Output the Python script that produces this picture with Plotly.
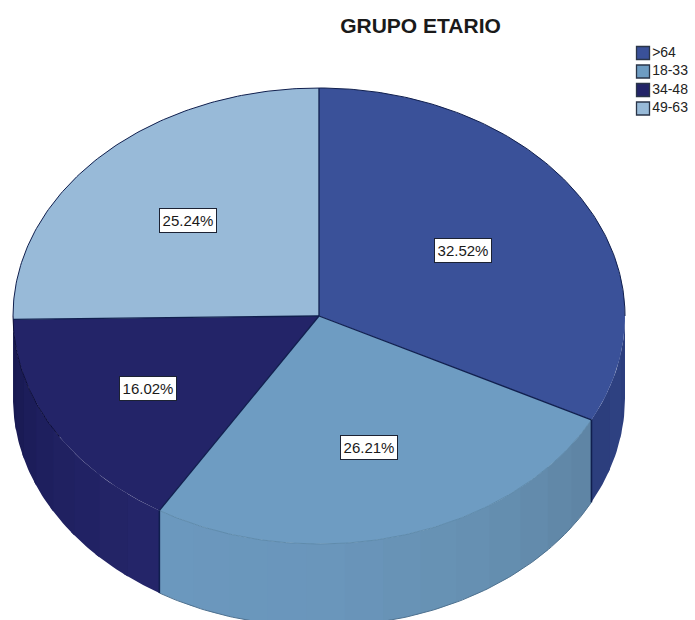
import numpy as np
import plotly.graph_objects as go

# Age-group shares, in drawing order (clockwise from twelve o'clock)
groups = [">64", "18-33", "34-48", "49-63"]
shares = [32.52, 26.21, 16.02, 25.24]
top_colors = ["#3A5199", "#6E9CC2", "#232468", "#98BAD8"]
# Wall shades per group, from the clockwise start of its wall to the end
wall_shades = [
    ["#2B3C7C", "#2E4181", "#2B3D7B"],
    ["#5E84A3", "#6690B2", "#6A96BB", "#6B98BE"],
    ["#25266A", "#1F2060", "#17184F"],
    ["#17184F", "#17184F"],
]
label_radius = [0.55, 0.60, 0.645, 0.60]

WIDTH, HEIGHT = 695, 620
CX, CY, RX, RY, DEPTH = 319, 316, 306, 228, 82.5
EDGE = "#101F4E"


def rim(deg, drop=0.0):
    """Position on the disc rim; deg runs clockwise from the top."""
    rad = np.radians(deg)
    return CX + RX * np.sin(rad), CY - RY * np.cos(rad) + drop


def hex_rgb(c):
    return np.array([int(c[i:i + 2], 16) for i in (1, 3, 5)], dtype=float)


def blend(stops, t):
    pos = t * (len(stops) - 1)
    i = min(int(pos), len(stops) - 2)
    mix = hex_rgb(stops[i]) * (1 - (pos - i)) + hex_rgb(stops[i + 1]) * (pos - i)
    return "rgb(%d,%d,%d)" % tuple(mix.round())


edges = np.concatenate([[0], np.cumsum(shares) / sum(shares) * 360])
fig = go.Figure()

# Outer wall of the cylinder, drawn as narrow bands so it can shade gradually;
# each band overlaps the next so no seam shows between them
for k in range(len(shares)):
    lo, hi = max(edges[k], 90), min(edges[k + 1], 270)
    if hi <= lo:
        continue
    bands = max(int((hi - lo) / 7), 1)
    cuts = np.linspace(lo, hi, bands + 1)
    for b in range(bands):
        arc = np.linspace(cuts[b], cuts[b + 1] + (1.0 if b < bands - 1 else 0), 10)
        tx, ty = rim(arc)
        bx, by = rim(arc[::-1], DEPTH)
        fig.add_trace(go.Scatter(
            x=np.concatenate([tx, bx]), y=np.concatenate([ty, by]),
            mode="lines", fill="toself", line=dict(width=0),
            fillcolor=blend(wall_shades[k], (b + 0.5) / bands),
        ))

# Top face of each slice
for k in range(len(shares)):
    arc = np.linspace(edges[k], edges[k + 1], 120)
    ax, ay = rim(arc)
    fig.add_trace(go.Scatter(
        x=np.concatenate([[CX], ax, [CX]]), y=np.concatenate([[CY], ay, [CY]]),
        mode="lines", fill="toself", line=dict(width=0), fillcolor=top_colors[k],
    ))

# Back rim of the disc
arc = np.linspace(-90, 90, 240)
ax, ay = rim(arc)
fig.add_trace(go.Scatter(x=ax, y=ay, mode="lines", line=dict(color=EDGE, width=1)))

# Left rim continuing along the dark slice until it fades out
arc = np.linspace(238, 270, 50)
ax, ay = rim(arc)
fig.add_trace(go.Scatter(x=ax, y=ay, mode="lines", line=dict(color="#0D0E3A", width=1)))

# Faint front rim of the lighter slice
arc = np.linspace(edges[1], edges[2], 120)
ax, ay = rim(arc)
fig.add_trace(go.Scatter(x=ax, y=ay, mode="lines", line=dict(color="#5F8BAC", width=1)))

# Silhouette below the wall
arc = np.linspace(edges[1], edges[2], 120)
ax, ay = rim(arc, DEPTH)
fig.add_trace(go.Scatter(x=ax, y=ay, mode="lines", line=dict(color="#4F7290", width=1)))

# Slice boundaries across the top face
for deg in edges[:-1]:
    ex, ey = rim(deg)
    fig.add_trace(go.Scatter(x=[CX, ex], y=[CY, ey], mode="lines",
                             line=dict(color=EDGE, width=1.3)))

# Vertical seams on the wall where slices meet
for deg in edges[1:3]:
    ex, ey = rim(deg)
    fig.add_trace(go.Scatter(x=[ex, ex], y=[ey, ey + DEPTH], mode="lines",
                             line=dict(color=EDGE, width=1.6)))

# Key at the upper right
fig.add_trace(go.Scatter(
    x=[643] * len(groups), y=[53 + 18.5 * i for i in range(len(groups))],
    mode="markers+text", text=groups, textposition="middle right",
    textfont=dict(family="Liberation Sans", size=14, color="#222222"),
    marker=dict(symbol="square", size=13, color=top_colors,
                line=dict(color="#2A3548", width=1.3)),
))

# Percentage tags
for k, share in enumerate(shares):
    mid = (edges[k] + edges[k + 1]) / 2
    rad = np.radians(mid)
    fig.add_annotation(
        x=CX + RX * label_radius[k] * np.sin(rad),
        y=CY - RY * label_radius[k] * np.cos(rad),
        text=f"{share:.2f}%", showarrow=False,
        font=dict(family="Liberation Sans", size=15, color="#1A1A1A"),
        bgcolor="#FFFFFF", bordercolor="#1C2233", borderwidth=1, borderpad=1,
        width=54, height=21,
    )

fig.update_layout(
    width=WIDTH, height=HEIGHT, autosize=False,
    margin=dict(l=0, r=0, t=0, b=0), showlegend=False, hovermode=False,
    paper_bgcolor="#FFFFFF", plot_bgcolor="#FFFFFF",
    title=dict(text="<b>GRUPO ETARIO</b>", x=420.5 / WIDTH, xanchor="center",
               y=1 - 26 / HEIGHT, yanchor="middle",
               font=dict(family="Liberation Sans", size=21, color="#1A1A1A")),
    xaxis=dict(range=[0, WIDTH], visible=False, fixedrange=True),
    yaxis=dict(range=[HEIGHT, 0], visible=False, fixedrange=True),
)
fig.write_html("out.html", config=dict(displayModeBar=False))
